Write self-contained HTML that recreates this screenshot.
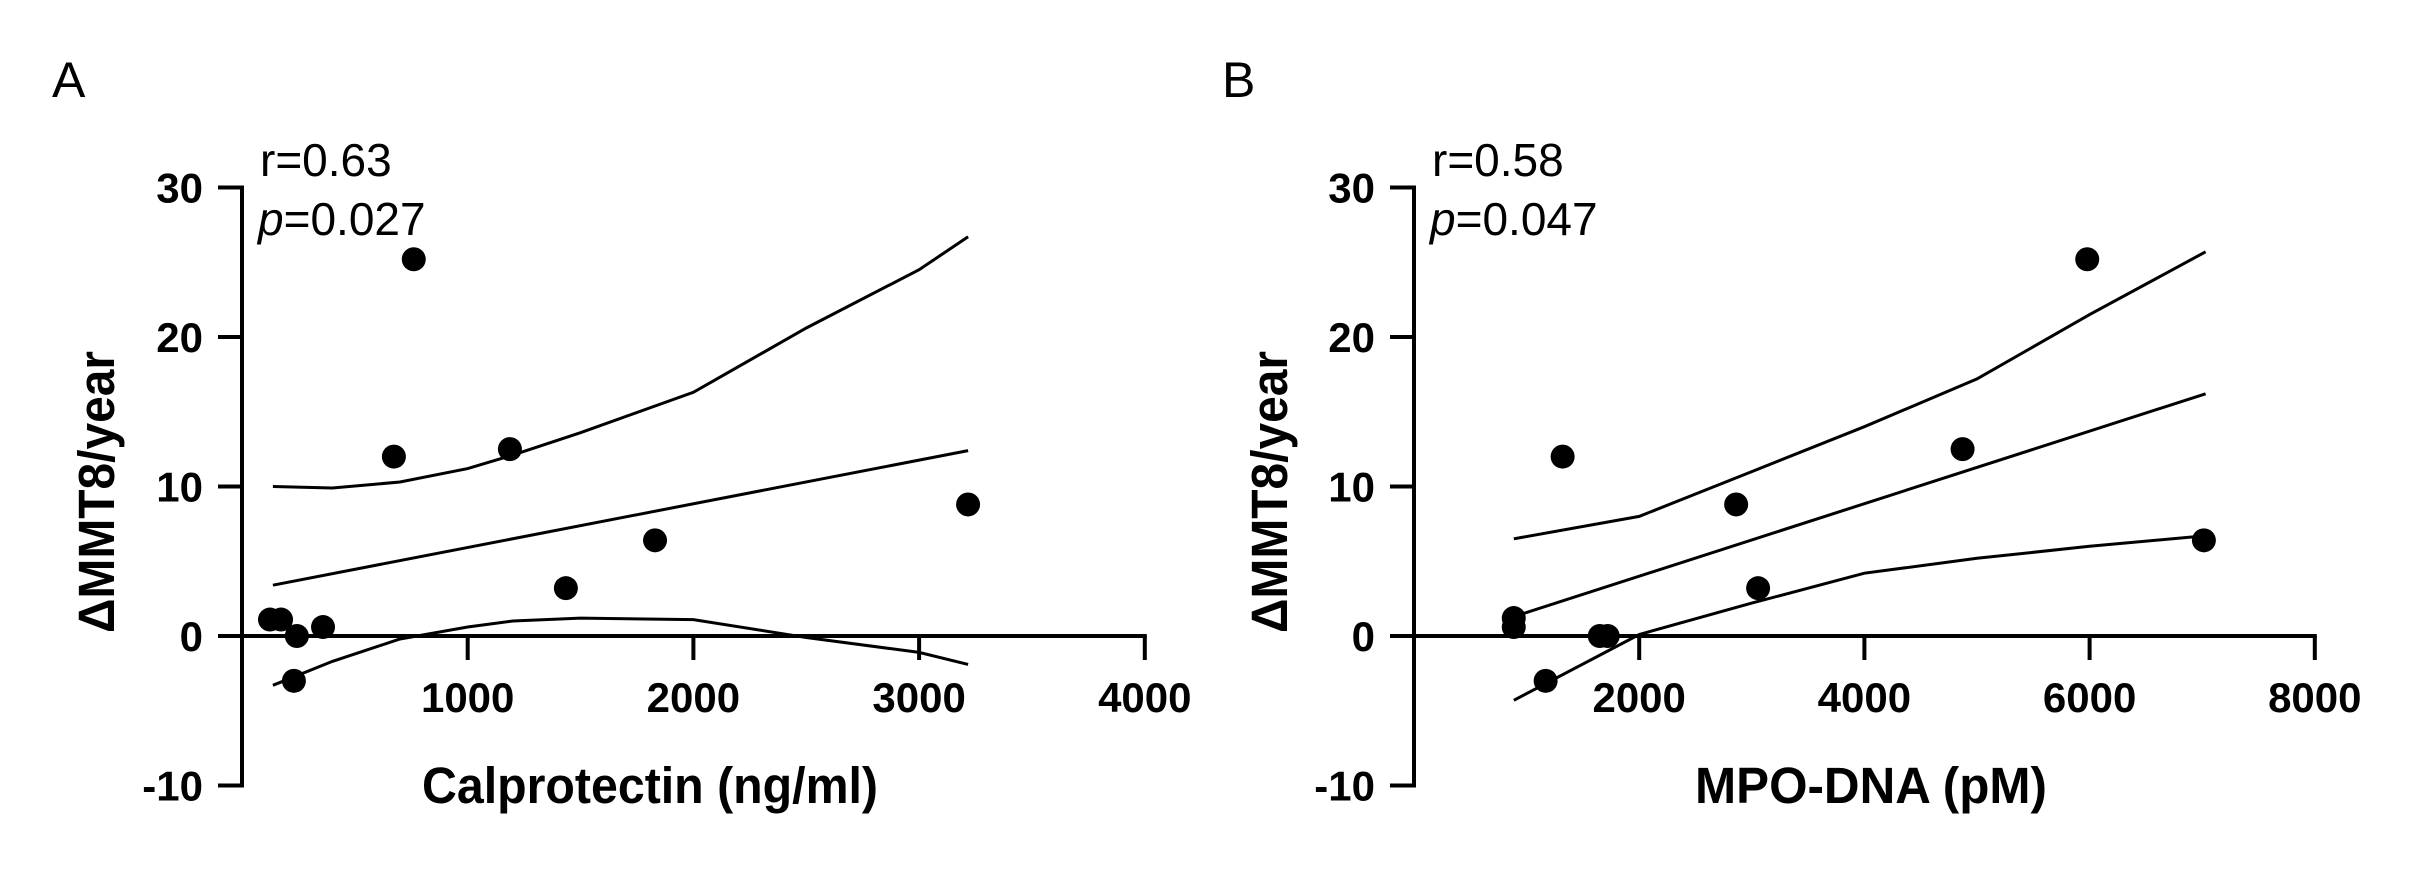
<!DOCTYPE html>
<html><head><meta charset="utf-8"><style>
html,body{margin:0;padding:0;background:#fff;}
svg{display:block;}
text{font-family:"Liberation Sans",Arial,sans-serif;fill:#000;}
.tick{font-weight:bold;font-size:42px;}
.title{font-weight:bold;font-size:51px;}
.stat{font-size:46px;}
</style></head><body>
<svg id="chart" width="2423" height="872" viewBox="0 0 2423 872" xmlns="http://www.w3.org/2000/svg">
<text x="52" y="97" font-size="50">A</text>
<text x="1222" y="97" font-size="50">B</text>
<g id="pa"></g>
<g id="pb"></g>
</svg>
<script>
// Panel A data
const aX = [124, 173, 243, 359, 230, 673, 761, 1187, 1435, 1830, 3217];
const aY = [1.1, 1.1, 0, 0.6, -3.0, 12.0, 25.2, 12.5, 3.2, 6.4, 8.8];
const aFitX = [137, 3217];
const aFitY = [3.4, 12.4];
const aBandX = [137, 400, 700, 1000, 1200, 1500, 2000, 2500, 3000, 3217];
const aUpper = [10.0, 9.9, 10.3, 11.2, 12.1, 13.6, 16.3, 20.6, 24.5, 26.7];
const aLower = [-3.3, -1.7, -0.2, 0.6, 1.0, 1.2, 1.1, -0.1, -1.1, -1.9];
const aXTicks = [1000, 2000, 3000, 4000];
// Panel B data
const bX = [886, 886, 1169, 1320, 1650, 1720, 2861, 3056, 4872, 5979, 7015];
const bY = [1.2, 0.6, -3.0, 12.0, 0, 0, 8.8, 3.2, 12.5, 25.2, 6.4];
const bFitX = [886, 7030];
const bFitY = [1.3, 16.2];
const bBandX = [886, 2000, 3000, 4000, 5000, 6000, 7030];
const bUpper = [6.5, 8.0, 11.0, 14.0, 17.2, 21.5, 25.7];
const bLower = [-4.3, 0.1, 2.2, 4.2, 5.2, 6.0, 6.7];
const bXTicks = [2000, 4000, 6000, 8000];
const yTicks = [30, 20, 10, 0, -10];
const NS = "http://www.w3.org/2000/svg";

function mk(parent, tag, attrs, txt){
  const e = document.createElementNS(NS, tag);
  for (const k in attrs) e.setAttribute(k, attrs[k]);
  if (txt !== undefined) e.textContent = txt;
  parent.appendChild(e);
  return e;
}

function panel(g, cfg){
  const x0 = cfg.axisX, xPer = cfg.xPer;
  const sx = v => x0 + v * xPer;
  const sy = v => 636 - v * 14.95;
  const ya = mk(g, "line", {x1:x0, y1:sy(30)-2, x2:x0, y2:sy(-10)+2, stroke:"#000", "stroke-width":4});
  
  
  yTicks.forEach(t => {
    const tl = mk(g, "line", {x1:x0-24, y1:sy(t), x2:x0, y2:sy(t), stroke:"#000", "stroke-width":4});
    
    
    const lb = mk(g, "text", {x:x0-39, y:sy(t)+15, "text-anchor":"end", class:"tick"}, String(t));
    
    
  });
  const xa = mk(g, "line", {x1:x0-24, y1:sy(0), x2:sx(cfg.xTicks[cfg.xTicks.length-1])+2, y2:sy(0), stroke:"#000", "stroke-width":4});
  
  
  cfg.xTicks.forEach(t => {
    const tl = mk(g, "line", {x1:sx(t), y1:sy(0), x2:sx(t), y2:sy(0)+24, stroke:"#000", "stroke-width":4});
    
    
    const lb = mk(g, "text", {x:sx(t), y:712, "text-anchor":"middle", class:"tick"}, String(t));
    
    
  });
  const xt = mk(g, "text", {x:cfg.xTitleX, y:803, "text-anchor":"middle", class:"title", textLength:cfg.xTitleW, lengthAdjust:"spacingAndGlyphs"}, cfg.xTitle);
  
  
  const yt = mk(g, "text", {x:0, y:0, "text-anchor":"middle", class:"title", textLength:282, lengthAdjust:"spacingAndGlyphs", transform:"translate("+(cfg.yTitleX)+",492) rotate(-90)"}, "ΔMMT8/year");
  
  
  const r = mk(g, "text", {x:x0+18, y:176, class:"stat"}, cfg.r);
  
  
  const p = mk(g, "text", {x:x0+16, y:235, class:"stat"});
  
  
  mk(p, "tspan", {"font-style":"italic"}, "p");
  mk(p, "tspan", {}, cfg.p);
  const path = (xs, ys) => xs.map((v,i) => (i?"L":"M") + sx(v).toFixed(1) + " " + sy(ys[i]).toFixed(1)).join(" ");
  const up = mk(g, "path", {d:path(cfg.bandX, cfg.upper), fill:"none", stroke:"#000", "stroke-width":3});
  
  
  const lo = mk(g, "path", {d:path(cfg.bandX, cfg.lower), fill:"none", stroke:"#000", "stroke-width":3});
  
  
  const fit = mk(g, "path", {d:path(cfg.fitX, cfg.fitY), fill:"none", stroke:"#000", "stroke-width":3});
  
  
  cfg.xs.forEach((v,i) => {
    const c = mk(g, "circle", {cx:sx(v), cy:sy(cfg.ys[i]), r:12, fill:"#000"});
    
    
  });
}

panel(document.getElementById("pa"), {axisX:242, xPer:0.2257, xTicks:aXTicks, xs:aX, ys:aY,
  fitX:aFitX, fitY:aFitY, bandX:aBandX, upper:aUpper, lower:aLower,
  xTitle:"Calprotectin (ng/ml)", xTitleX:650, xTitleW:456, yTitleX:114, r:"r=0.63", p:"=0.027"});
panel(document.getElementById("pb"), {axisX:1414, xPer:0.1126, xTicks:bXTicks, xs:bX, ys:bY,
  fitX:bFitX, fitY:bFitY, bandX:bBandX, upper:bUpper, lower:bLower,
  xTitle:"MPO-DNA (pM)", xTitleX:1871, xTitleW:352, yTitleX:1287, r:"r=0.58", p:"=0.047"});
</script>
</body></html>
